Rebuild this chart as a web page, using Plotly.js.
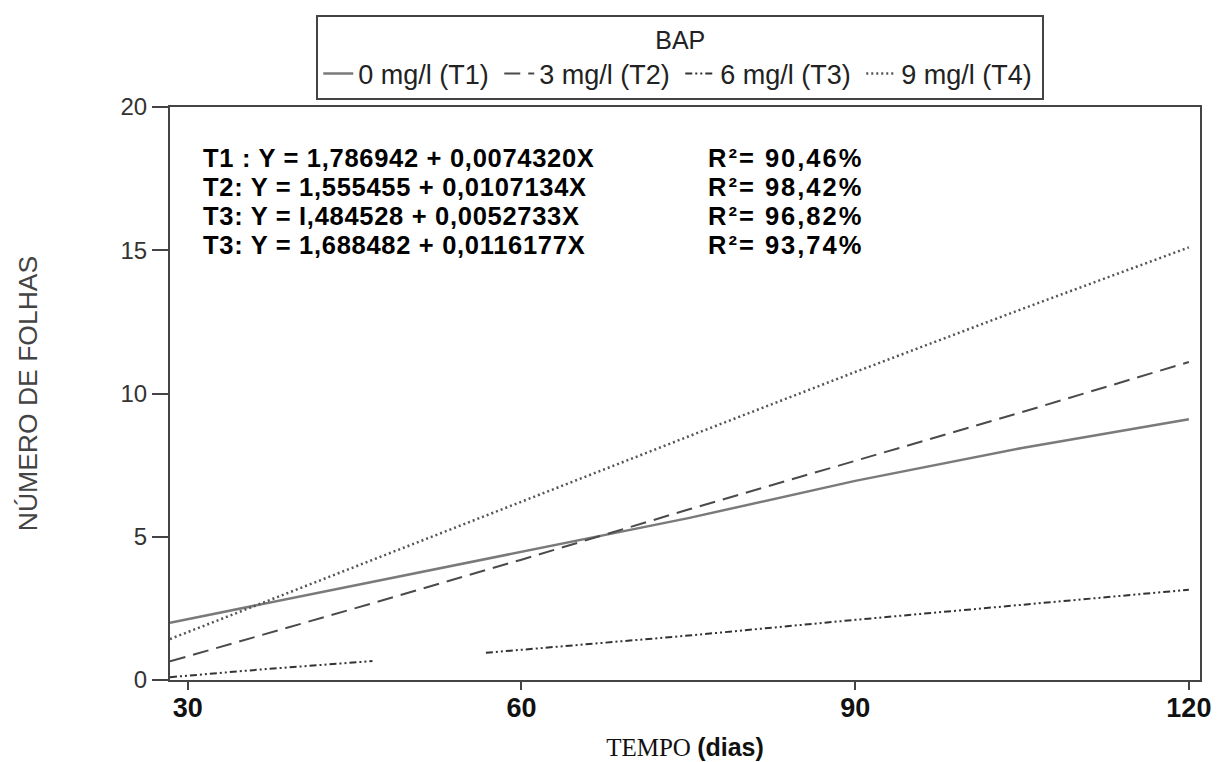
<!DOCTYPE html>
<html>
<head>
<meta charset="utf-8">
<script src="https://cdn.plot.ly/plotly-3.0.1.min.js"></script>
<style>
  html, body { margin: 0; padding: 0; background: #ffffff; }
  #chart { width: 1217px; height: 762px; }
</style>
</head>
<body>
<div id="chart"></div>
<script>
// Leaf count over time for four BAP concentrations
const days = [28.4, 45, 60, 75, 90, 105, 120];
const t1 = [2.0, 3.3, 4.45, 5.65, 6.95, 8.1, 9.1];
const t2 = [0.65, 2.5, 4.2, 5.95, 7.65, 9.35, 11.1];
const t4 = [1.43, 3.95, 6.25, 8.5, 10.75, 12.95, 15.1];
// T3 has a break in the printed curve between ~47 and ~57 days
const daysT3 = [28.4, 37, 46.6, 51, 56.8, 75, 90, 105, 120];
const t3 = [0.1, 0.38, 0.66, null, 0.95, 1.55, 2.1, 2.63, 3.15];

const seriesNames = ['0 mg/l (T1)', '3 mg/l (T2)', '6 mg/l (T3)', '9 mg/l (T4)'];
const xTicks = [30, 60, 90, 120];
const yTicks = [0, 5, 10, 15, 20];

const equations = [
  'T1 : Y = 1,786942 + 0,0074320X',
  'T2: Y = 1,555455 + 0,0107134X',
  'T3: Y = I,484528 + 0,0052733X',
  'T3: Y = 1,688482 + 0,0116177X'
];
const r2Labels = ['90,46%', '98,42%', '96,82%', '93,74%'];

const sans = 'Liberation Sans, Arial, Helvetica, sans-serif';

const traces = [
  { x: days, y: t1, name: seriesNames[0], mode: 'lines',
    line: { color: '#7a7a7a', width: 2.5, dash: 'solid' } },
  { x: days, y: t2, name: seriesNames[1], mode: 'lines',
    line: { color: '#4a4a4a', width: 2, dash: '16px,8px' } },
  { x: daysT3, y: t3, name: seriesNames[2], mode: 'lines',
    line: { color: '#333333', width: 2, dash: '7px,3px,2px,3px,2px,3px' } },
  { x: days, y: t4, name: seriesNames[3], mode: 'lines',
    line: { color: '#555555', width: 2.5, dash: '2px,3px' } }
];

// Regression equations and R² values written inside the plot
const annotations = [];
const eqY = [18.22, 17.2, 16.2, 15.18];
const eqFont = { family: sans, size: 25.5, color: '#000', weight: 'bold' };
equations.forEach((txt, i) => {
  annotations.push({
    x: 31.2, y: eqY[i], xref: 'x', yref: 'y',
    text: '<span style="letter-spacing:0.7px">' + txt + '</span>',
    showarrow: false, xanchor: 'left', yanchor: 'middle', font: eqFont
  });
  annotations.push({
    x: 76.6, y: eqY[i], xref: 'x', yref: 'y',
    text: '<span style="letter-spacing:2px">R²= ' + r2Labels[i] + '</span>',
    showarrow: false, xanchor: 'left', yanchor: 'middle', font: eqFont
  });
});

const layout = {
  width: 1217, height: 762,
  margin: { l: 170, r: 17, t: 107, b: 82 },
  paper_bgcolor: '#ffffff', plot_bgcolor: '#ffffff',
  showlegend: true,
  legend: {
    orientation: 'h', x: 0.142, y: 1.1606, xanchor: 'left', yanchor: 'top',
    bgcolor: '#ffffff', bordercolor: '#444', borderwidth: 2,
    font: { family: sans, size: 27, color: '#222' },
    title: { text: 'BAP', side: 'top center', font: { family: sans, size: 25, color: '#222' } },
    entrywidth: 136, itemwidth: 30
  },
  xaxis: {
    range: [28.4, 121], tickvals: xTicks, ticktext: xTicks.map(String),
    ticks: 'outside', ticklen: 8, tickwidth: 2, tickcolor: '#444',
    showline: true, mirror: true, linecolor: '#444', linewidth: 2,
    showgrid: false, zeroline: false,
    tickfont: { family: sans, size: 27, color: '#111', weight: 'bold' },
    ticklabelstandoff: -5,
    title: {
      text: 'TEMPO <span style="font-family:Liberation Sans, Arial, sans-serif;font-weight:bold">(dias)</span>',
      font: { family: 'Liberation Serif, Times New Roman, serif', size: 25, color: '#111' },
      standoff: 16
    }
  },
  yaxis: {
    range: [0, 20], tickvals: yTicks,
    ticks: 'outside', ticklen: 16, tickwidth: 2, tickcolor: '#444',
    showline: true, mirror: true, linecolor: '#444', linewidth: 2,
    showgrid: false, zeroline: false,
    tickfont: { family: sans, size: 24, color: '#333' },
    title: {
      text: 'NÚMERO DE FOLHAS',
      font: { family: sans, size: 26.5, color: '#444' },
      standoff: 75
    }
  },
  annotations: annotations
};

Plotly.newPlot('chart', traces, layout, { displayModeBar: false, staticPlot: true });
</script>
</body>
</html>
